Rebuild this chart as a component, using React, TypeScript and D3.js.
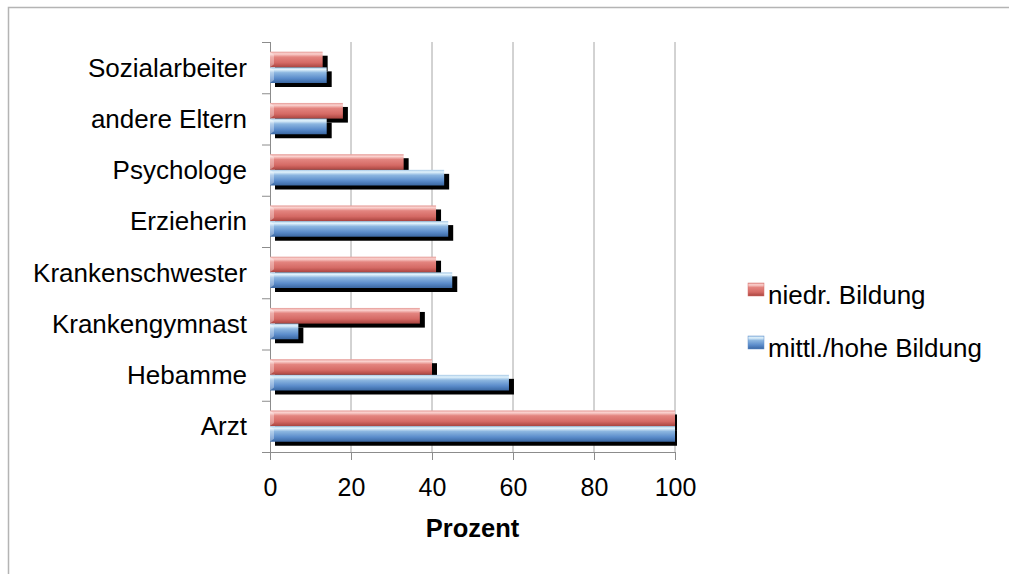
// horizontal grouped bar chart: who do parents ask, split by education level
import React, { useRef, useEffect } from 'react';
import * as d3 from 'd3';

// categories top to bottom
const categories = [
  'Sozialarbeiter',
  'andere Eltern',
  'Psychologe',
  'Erzieherin',
  'Krankenschwester',
  'Krankengymnast',
  'Hebamme',
  'Arzt',
];
const seriesNames = ['niedr. Bildung', 'mittl./hohe Bildung'];
const niedrig = [13, 18, 33, 41, 41, 37, 40, 100];
const mittelHoch = [14, 14, 43, 44, 45, 7, 59, 100];
const xTicks = [0, 20, 40, 60, 80, 100];

const width = 1009;
const height = 574;
const font = '"Liberation Sans", Arial, sans-serif';

function App() {
  const ref = useRef(null);

  useEffect(() => {
    const svg = d3.select(ref.current);
    svg.selectAll('*').remove();

    const data = categories.map((c, i) => ({ cat: c, vals: [niedrig[i], mittelHoch[i]] }));

    // gradients for the glossy bars
    const defs = svg.append('defs');
    const grads = [
      { id: 'gRed', stops: [['0', '#e59a96'], ['0.14', '#fbd3d0'], ['0.34', '#e3847f'], ['0.7', '#d56a65'], ['1', '#a9443f']] },
      { id: 'gBlue', stops: [['0', '#a6c8e6'], ['0.14', '#e2f3fc'], ['0.34', '#8cb6e0'], ['0.7', '#5b8ccb'], ['1', '#3a67a2']] },
    ];
    grads.forEach(g => {
      const lg = defs.append('linearGradient').attr('id', g.id)
        .attr('x1', 0).attr('y1', 0).attr('x2', 0).attr('y2', 1);
      g.stops.forEach(s => lg.append('stop').attr('offset', s[0]).attr('stop-color', s[1]));
    });
    const fills = ['url(#gRed)', 'url(#gBlue)'];
    const legendFills = ['#d5706b', '#5f8fcc'];

    const xScale = d3.scaleLinear().domain([0, 100]).range([270, 675]);
    const yScale = d3.scaleBand().domain(categories).range([42, 452]).padding(0);
    const inner = d3.scaleBand().domain(['0', '1']).range([9.7, 41]).padding(0);

    // shadows get cut a bit after the plot's right edge
    defs.append('clipPath').attr('id', 'plotClip')
      .append('rect')
      .attr('x', 0).attr('y', 0)
      .attr('width', xScale(100) + 2).attr('height', 460);

    // outer frame
    svg.append('rect')
      .attr('x', 8.5).attr('y', 7.5)
      .attr('width', 1100).attr('height', 700)
      .attr('fill', 'white')
      .attr('stroke', '#b4b4b4')
      .attr('stroke-width', 1.5);

    // gridlines
    svg.append('g')
      .selectAll('line')
      .data(xTicks.slice(1))
      .enter()
      .append('line')
      .attr('x1', d => xScale(d)).attr('x2', d => xScale(d))
      .attr('y1', 42).attr('y2', 452)
      .attr('stroke', '#a6a6a6')
      .attr('stroke-width', 1);

    // x axis
    const xAxis = svg.append('g')
      .attr('transform', `translate(0,452)`)
      .call(d3.axisBottom(xScale).tickValues(xTicks).tickSize(8).tickPadding(18));
    xAxis.select('.domain').attr('d', 'M262.5,0.5H675.5').attr('stroke', '#8c8c8c');
    xAxis.selectAll('.tick line').attr('stroke', '#8c8c8c');
    xAxis.selectAll('.tick text')
      .attr('font-family', font).attr('font-size', 25).attr('fill', '#000')
      .attr('dy', '0.71em');

    // y axis line and ticks at band edges
    svg.append('line')
      .attr('x1', 270.5).attr('x2', 270.5).attr('y1', 42).attr('y2', 452)
      .attr('stroke', '#8c8c8c');
    svg.append('g')
      .selectAll('line')
      .data(d3.range(categories.length + 1))
      .enter()
      .append('line')
      .attr('x1', 262).attr('x2', 270)
      .attr('y1', i => 42 + i * yScale.step() + 0.5)
      .attr('y2', i => 42 + i * yScale.step() + 0.5)
      .attr('stroke', '#8c8c8c');

    // category labels
    svg.append('g')
      .selectAll('text')
      .data(categories)
      .enter()
      .append('text')
      .attr('x', 247)
      .attr('y', d => yScale(d) + yScale.bandwidth() / 2 + 9)
      .attr('text-anchor', 'end')
      .attr('font-family', font)
      .attr('font-size', 26)
      .text(d => d);

    // shadows first, then bars
    const shadows = svg.append('g').attr('clip-path', 'url(#plotClip)');
    data.forEach(d => {
      d.vals.forEach((v, s) => {
        shadows.append('rect')
          .attr('x', xScale(0) + 5)
          .attr('y', yScale(d.cat) + inner(String(s)) + 4)
          .attr('width', xScale(v) - xScale(0))
          .attr('height', inner.bandwidth())
          .attr('fill', '#000');
      });
    });
    const groups = svg.append('g');
    data.forEach(d => {
      d.vals.forEach((v, s) => {
        const y0 = yScale(d.cat) + inner(String(s));
        groups.append('rect')
          .attr('x', xScale(0))
          .attr('y', y0)
          .attr('width', xScale(v) - xScale(0))
          .attr('height', inner.bandwidth())
          .attr('fill', fills[s]);
        // little bevel on the left end
        groups.append('path')
          .attr('d', `M${xScale(0)},${y0}L${xScale(0) + 4},${y0 + 3}L${xScale(0) + 4},${y0 + inner.bandwidth() - 3}L${xScale(0)},${y0 + inner.bandwidth()}Z`)
          .attr('fill', '#fff')
          .attr('opacity', 0.35);
      });
    });

    // x axis title
    svg.append('text')
      .attr('x', (xScale(0) + xScale(100)) / 2)
      .attr('y', 537)
      .attr('text-anchor', 'middle')
      .attr('font-family', font)
      .attr('font-weight', 'bold')
      .attr('font-size', 25.5)
      .text('Prozent');

    // legend
    const legend = svg.append('g');
    seriesNames.forEach((name, i) => {
      const yy = 283 + i * 53;
      legend.append('rect')
        .attr('x', 748).attr('y', yy)
        .attr('width', 16).attr('height', 13)
        .attr('fill', i === 0 ? 'url(#gRed)' : 'url(#gBlue)')
        .attr('stroke', legendFills[i]).attr('stroke-width', 0.5);
      legend.append('text')
        .attr('x', 768).attr('y', yy + 21)
        .attr('font-family', font)
        .attr('font-size', 26)
        .text(name);
    });
  }, []);

  return (
    <svg ref={ref} width={width} height={height}
      style={{ position: 'absolute', left: 0, top: 0, background: '#fff' }} />
  );
}

export default App;
